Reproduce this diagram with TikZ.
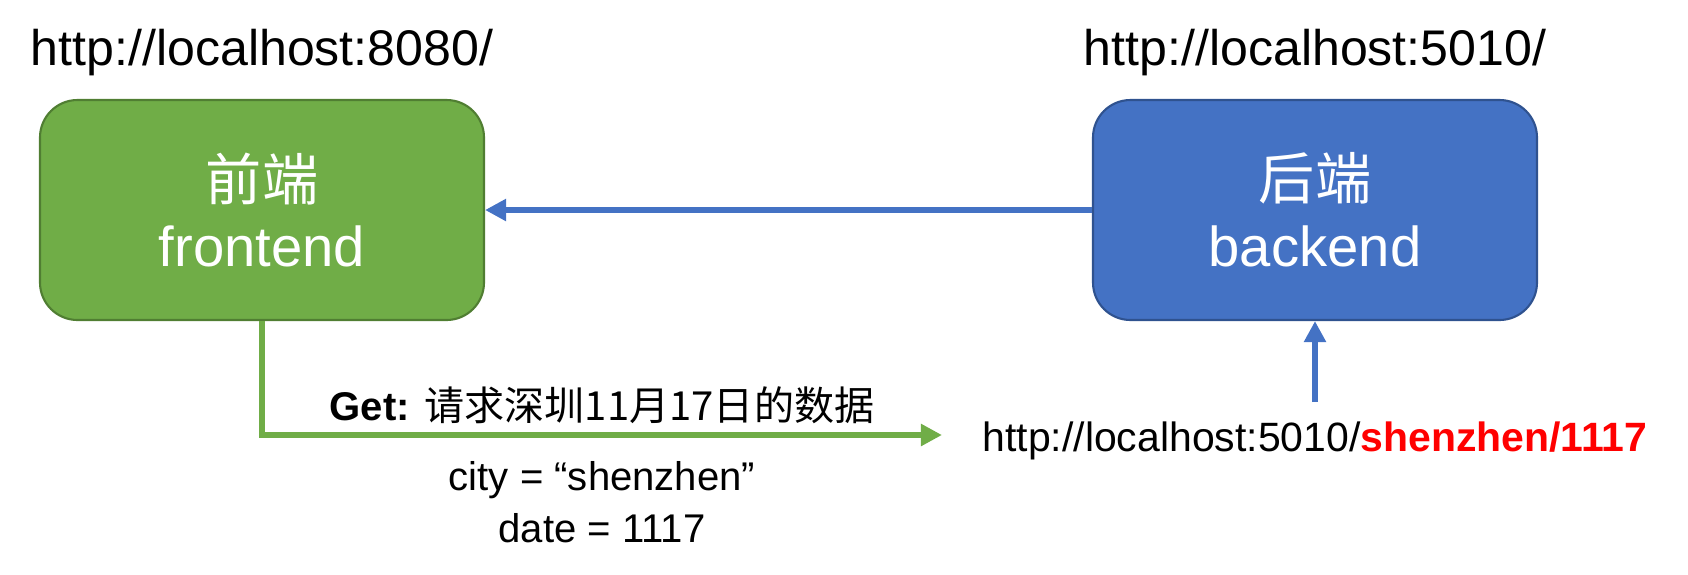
\documentclass[tikz,border=0pt]{standalone}
\usepackage{fontspec}
\setmainfont{Liberation Sans}
\newfontfamily\cjk{Noto Sans CJK SC}
\usepackage{xcolor}
\usetikzlibrary{arrows.meta, positioning}
\definecolor{frontgreen}{HTML}{70AD47}
\definecolor{frontedge}{HTML}{507E32}
\definecolor{backblue}{HTML}{4472C4}
\definecolor{backedge}{HTML}{2F528F}

\begin{document}
\begin{tikzpicture}[
    box/.style={rectangle, draw, line width=1.2pt, rounded corners=0.75cm, align=center, minimum width=8.88cm, minimum height=4.4cm, text=white, font=\fontsize{32}{38}\selectfont},
    url/.style={inner sep=0pt, font=\fontsize{28.5}{34}\selectfont},
    lbl/.style={inner sep=0pt, text=black, font=\fontsize{22.8}{29.6}\selectfont},
    arrow/.style={line width=3pt, -{Triangle[length=12pt,width=12pt]}}
]
    \useasboundingbox (0,0) rectangle (33.76,-11.48);
    % Nodes
    \node[box, fill=frontgreen, draw=frontedge] (front) at (5.24,-4.2) {{\cjk 前端}\\frontend};
    \node[box, fill=backblue, draw=backedge] (back) at (26.3,-4.2) {{\cjk 后端}\\backend};
    \node[url, above=0.45cm of front] (fronturl) {http://localhost:8080/};
    \node[url, above=0.45cm of back] (backurl) {http://localhost:5010/};
    \node[lbl, below=2.0cm of back, font=\fontsize{23.3}{28}\selectfont] (requrl) {http://localhost:5010/\textcolor{red}{\bfseries shenzhen/1117}};
    \coordinate (reqend) at (18.84,-8.7);

    % Connections
    \draw[arrow, backblue] (back) -- (front);
    \draw[arrow, backblue, shorten <=0.38cm] (requrl) -- (back);
    \draw[arrow, frontgreen] (front.south) |- node[lbl, pos=0.75, above=5pt] {\textbf{Get:} {\cjk 请求深圳11月17日的数据}}
        node[lbl, pos=0.75, below=0.48cm, align=center] {city = “shenzhen”\\date = 1117} (reqend);
\end{tikzpicture}
\end{document}
